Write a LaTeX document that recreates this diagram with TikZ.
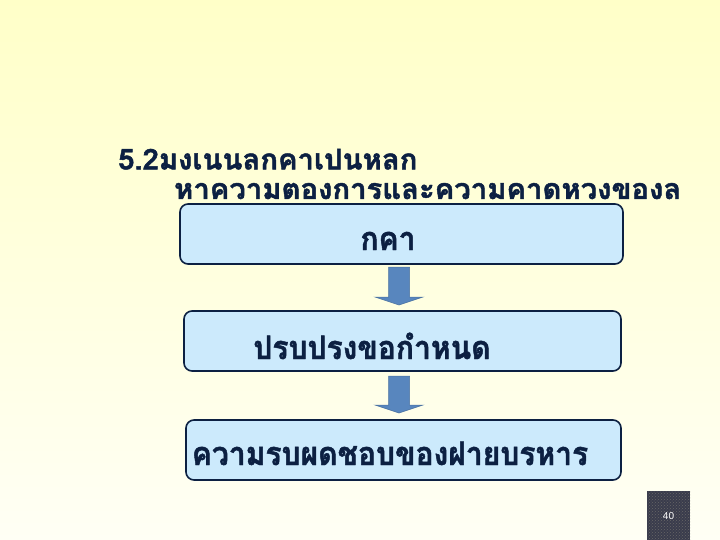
\documentclass[tikz,border=0pt]{standalone}
\usepackage{fontspec}
\setmainfont{Liberation Sans}
\newfontfamily\thaifont[Script=Thai,FakeBold=1.5]{Loma}
\usetikzlibrary{patterns}
\definecolor{bgtop}{RGB}{255,255,200}
\definecolor{bgbot}{RGB}{255,255,245}
\definecolor{boxfill}{RGB}{204,234,252}
\definecolor{navy}{RGB}{12,32,66}
\definecolor{arrowblue}{RGB}{88,134,190}
\definecolor{pgbox}{RGB}{58,60,76}
\tikzset{
  flowbox/.style={draw=navy, line width=1.6pt, fill=boxfill, rounded corners=8pt, inner sep=0pt},
  boxtext/.style={text=navy, font=\thaifont\bfseries\fontsize{30}{30}\selectfont, inner sep=0pt, anchor=base},
  titletext/.style={text=navy, font=\thaifont\bfseries\fontsize{28}{28}\selectfont, inner sep=0pt, anchor=base west},
  blockarrow/.style={fill=arrowblue, draw=arrowblue!85!black, line width=0.5pt, line join=miter}
}
\begin{document}
\begin{tikzpicture}[x=1pt,y=-1pt]
\shade[top color=bgtop, bottom color=bgbot] (0,0) rectangle (720,540);
\useasboundingbox (0,0) rectangle (720,540);
% title (two lines, one text)
\node[titletext] (title) at (118,199) {\scalebox{1.045}[1.02]{\vbox{\baselineskip=29pt\lineskiplimit=-\maxdimen
  \hbox{5.2มงเนนลกคาเปนหลก}
  \hbox{\hspace*{53.5pt}หาความตองการและความคาดหวงของล}}}};
% boxes
\node[flowbox, minimum width=443pt, minimum height=60pt] (b1) at (401.5,234) {};
\node[flowbox, minimum width=437pt, minimum height=60pt] (b2) at (402.5,341) {};
\node[flowbox, minimum width=435pt, minimum height=60pt] (b3) at (403.5,450) {};
\node[boxtext] (l1) at (388,250) {\scalebox{1}[1.08]{กคา}};
\node[boxtext] (l2) at (372,359) {\scalebox{1}[1.08]{ปรบปรงขอกำหนด}};
\node[boxtext] (l3) at (390,465) {\scalebox{1}[1.08]{ความรบผดชอบของฝายบรหาร}};
% arrows
\coordinate (a1t) at (399,267);
\coordinate (a1b) at (399,305);
\draw[blockarrow] ([xshift=-10.5pt]a1t) -- ([xshift=10.5pt]a1t) -- ([xshift=10.5pt,yshift=8pt]a1b)
  -- ([xshift=24pt,yshift=8pt]a1b) -- (a1b) -- ([xshift=-24pt,yshift=8pt]a1b) -- ([xshift=-10.5pt,yshift=8pt]a1b) -- cycle;
\coordinate (a2t) at (399,376);
\coordinate (a2b) at (399,413);
\draw[blockarrow] ([xshift=-10.5pt]a2t) -- ([xshift=10.5pt]a2t) -- ([xshift=10.5pt,yshift=8pt]a2b)
  -- ([xshift=24pt,yshift=8pt]a2b) -- (a2b) -- ([xshift=-24pt,yshift=8pt]a2b) -- ([xshift=-10.5pt,yshift=8pt]a2b) -- cycle;
% page number
\fill[pgbox] (647,491) rectangle (690,540);
\fill[pattern=crosshatch dots, pattern color=black!60] (647,491) rectangle (690,540);
\node[text=white, font=\fontsize{10}{10}\selectfont] (pn) at (668.5,516) {40};
\end{tikzpicture}
\end{document}
